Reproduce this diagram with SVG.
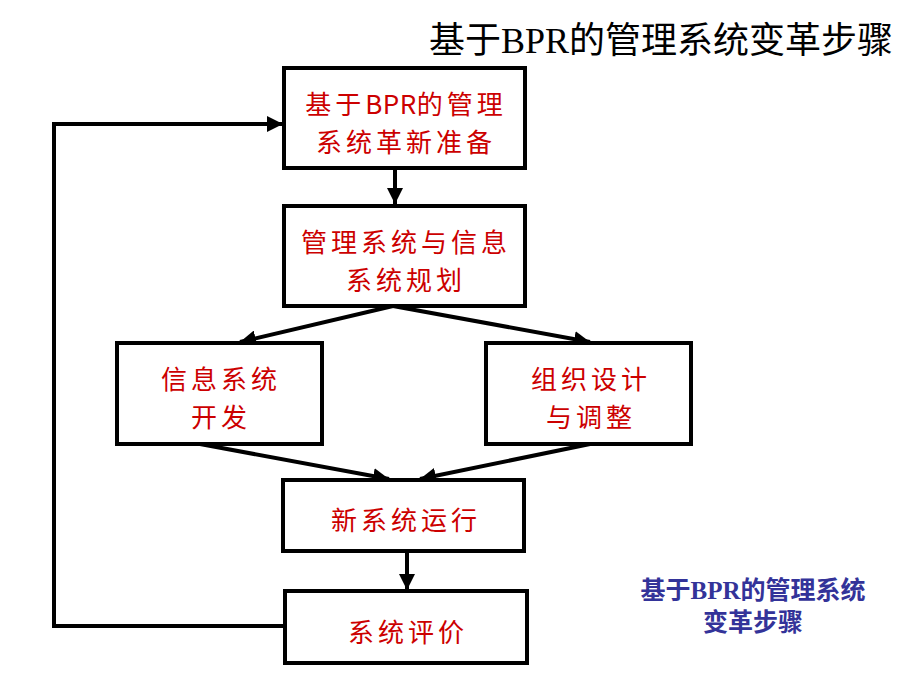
<svg xmlns="http://www.w3.org/2000/svg" width="920" height="690" viewBox="0 0 920 690">
<style>
.box{fill:#fff;stroke:#000;stroke-width:4}
.lbl{font-family:"Noto Sans CJK SC","Liberation Sans",sans-serif;font-size:26px;letter-spacing:4px;fill:#cc0000;text-anchor:middle;dominant-baseline:central}
.tight{letter-spacing:0.5px}
.conn{fill:none;stroke:#000;stroke-width:4}
.title{font-family:"Liberation Serif","Noto Sans CJK SC",serif;font-size:36px;fill:#000}
.cap{font-family:"Liberation Serif","Noto Sans CJK SC",serif;font-size:25px;font-weight:bold;fill:#333399;text-anchor:middle;dominant-baseline:central}
</style>
<defs>
<marker id="ah" viewBox="0 0 10 10" refX="10" refY="5" markerWidth="4" markerHeight="4" orient="auto" markerUnits="strokeWidth">
<path d="M0,0 L10,5 L0,10 z" fill="#000"/>
</marker>
</defs>
<rect width="920" height="690" fill="#fff"/>
<text class="title" x="893" y="53" text-anchor="end">基于BPR的管理系统变革步骤</text>
<g id="connectors">
<path class="conn" d="M395,168 L395,204" marker-end="url(#ah)"/>
<path class="conn" d="M393,306 L240,342" marker-end="url(#ah)"/>
<path class="conn" d="M393,306 L590,342" marker-end="url(#ah)"/>
<path class="conn" d="M200,444 L389,479" marker-end="url(#ah)"/>
<path class="conn" d="M590,444 L420,479" marker-end="url(#ah)"/>
<path class="conn" d="M407,551 L407,590" marker-end="url(#ah)"/>
<path class="conn" d="M285,626 L54,626 L54,124 L283,124" marker-end="url(#ah)"/>
</g>
<g id="n1"><rect class="box" x="284" y="68" width="241" height="100"/>
<text class="lbl" x="406" y="102">基于<tspan class="tight">BPR</tspan>的管理</text><text class="lbl" x="406" y="140">系统革新准备</text></g>
<g id="n2"><rect class="box" x="284" y="206" width="241" height="100"/>
<text class="lbl" x="406" y="240">管理系统与信息</text><text class="lbl" x="406" y="278">系统规划</text></g>
<g id="n3"><rect class="box" x="117" y="343" width="205" height="101"/>
<text class="lbl" x="221" y="377">信息系统</text><text class="lbl" x="221" y="415">开发</text></g>
<g id="n4"><rect class="box" x="486" y="343" width="205" height="101"/>
<text class="lbl" x="591" y="377">组织设计</text><text class="lbl" x="591" y="415">与调整</text></g>
<g id="n5"><rect class="box" x="283" y="480" width="241" height="71"/>
<text class="lbl" x="406" y="518">新系统运行</text></g>
<g id="n6"><rect class="box" x="285" y="591" width="242" height="72"/>
<text class="lbl" x="408" y="630">系统评价</text></g>
<g id="caption">
<text class="cap" x="753" y="590">基于BPR的管理系统</text>
<text class="cap" x="753" y="622">变革步骤</text>
</g>
</svg>
